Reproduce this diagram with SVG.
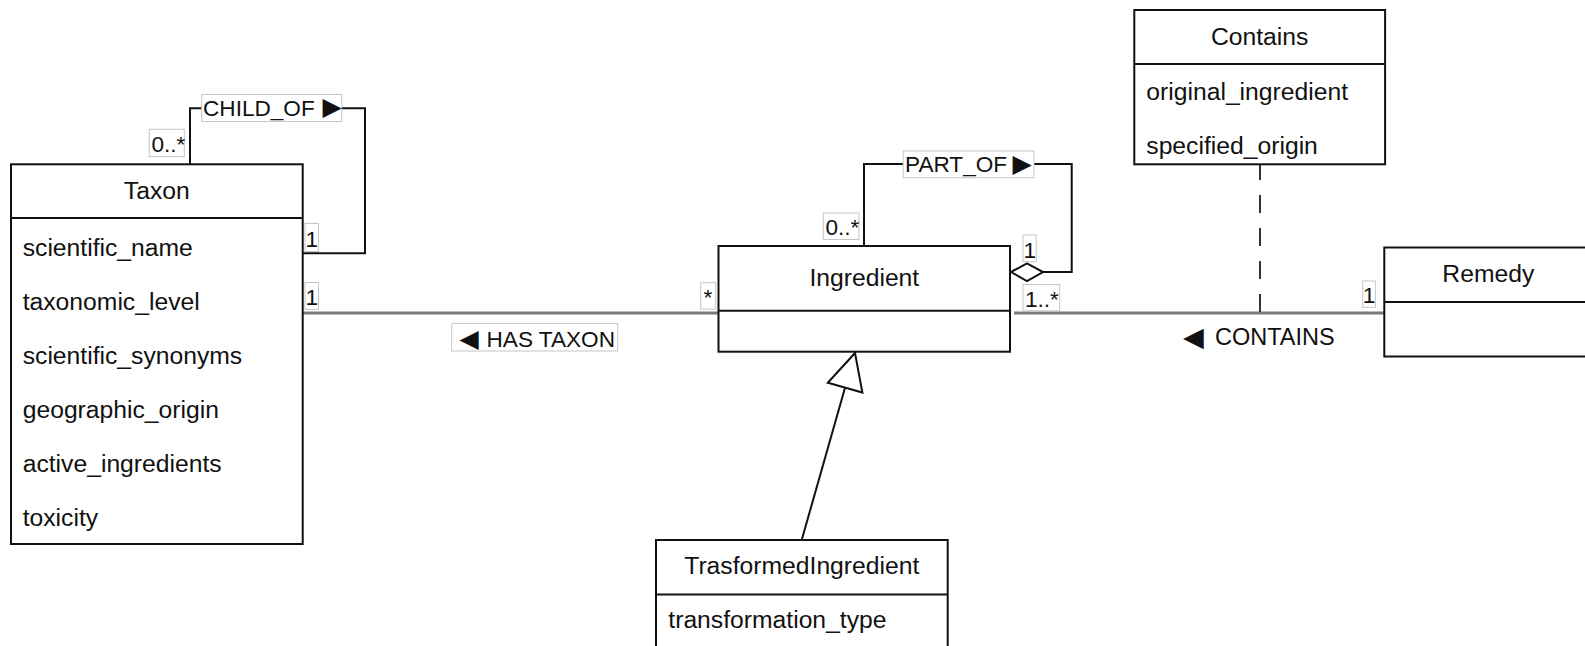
<svg xmlns="http://www.w3.org/2000/svg" width="1585" height="646" viewBox="0 0 1585 646">
<style>
.box{fill:#fff;stroke:#111;stroke-width:2}
.t{font-family:"Liberation Sans",Arial,Helvetica,sans-serif;font-size:24.7px;fill:#111}
.c{text-anchor:middle}
.lb{fill:#fff;stroke:#c6c6c6;stroke-width:1}
.lt{font-family:"Liberation Sans",Arial,Helvetica,sans-serif;font-size:22.6px;fill:#111}
.tri{font-family:"DejaVu Sans",sans-serif;font-size:25px;fill:#111}
.edge{fill:none;stroke:#111;stroke-width:2}
.assoc{fill:none;stroke:#7a7a7a;stroke-width:3}
.dash{fill:none;stroke:#333;stroke-width:2;stroke-dasharray:18 15}
</style>
<rect width="1585" height="646" fill="#fff"/>

<g id="connectors">
  <!-- CHILD_OF self loop -->
  <path class="edge" d="M190,164 V108.3 H365 V253.3 H303"/>
  <!-- PART_OF self loop with aggregation -->
  <path class="edge" d="M864,246 V164 H1071.7 V272 H1043"/>
  <path d="M1011,272 L1027,263.3 L1043,272 L1027,281 Z" fill="#fff" stroke="#111" stroke-width="2"/>
  <!-- HAS TAXON -->
  <line class="assoc" x1="303" y1="313" x2="718.5" y2="313"/>
  <!-- CONTAINS -->
  <line class="assoc" x1="1014" y1="313" x2="1384" y2="313"/>
  <!-- association class dashed -->
  <path class="dash" d="M1260,312 V164.5"/>
  <!-- generalization -->
  <line class="edge" x1="801.7" y1="540" x2="845.1" y2="387.6"/>
  <polygon points="855,353 862.4,392.5 827.8,382.7" fill="#fff" stroke="#111" stroke-width="2"/>

  <!-- labels -->
  <rect class="lb" x="201.7" y="94.5" width="140" height="27"/>
  <text class="lt" x="203" y="115.5">CHILD_OF</text>
  <text class="tri" x="322.5" y="114.8">▶</text>

  <rect class="lb" x="903.2" y="151" width="130.8" height="26.7"/>
  <text class="lt" x="905" y="172">PART_OF</text>
  <text class="tri" x="1012.5" y="171.8">▶</text>

  <rect class="lb" x="451.7" y="323.5" width="166" height="27.5"/>
  <text class="tri" x="459.5" y="346.8">◀</text>
  <text class="lt" x="486.5" y="347.3">HAS TAXON</text>

  <text class="tri" x="1183" y="345.5" style="font-size:27px">◀</text>
  <text class="lt" x="1215" y="345" style="font-size:23.5px">CONTAINS</text>

  <rect class="lb" x="149.3" y="129.3" width="35" height="27.4"/>
  <text class="lt" x="151.5" y="151.5">0..*</text>
  <rect class="lb" x="305" y="223.5" width="13.5" height="28"/>
  <text class="lt" x="305.5" y="246.5">1</text>
  <rect class="lb" x="305" y="282.5" width="13.5" height="27"/>
  <text class="lt" x="305.5" y="305">1</text>
  <rect class="lb" x="700.7" y="282.7" width="15" height="26.5"/>
  <text class="lt" x="703.5" y="305">*</text>
  <rect class="lb" x="823.3" y="213" width="35.6" height="26.5"/>
  <text class="lt" x="825.5" y="235">0..*</text>
  <rect class="lb" x="1023" y="235" width="13.2" height="26.7"/>
  <text class="lt" x="1023.5" y="257.5">1</text>
  <rect class="lb" x="1023" y="284.5" width="36.7" height="26.3"/>
  <text class="lt" x="1025" y="306.5">1..*</text>
  <rect class="lb" x="1362.7" y="281" width="12.7" height="26.3"/>
  <text class="lt" x="1362.8" y="303">1</text>
</g>

<g id="taxon">
  <rect class="box" x="11" y="164.3" width="291.7" height="379.7"/>
  <line class="box" x1="11" y1="218" x2="302.7" y2="218"/>
  <text class="t c" x="156.8" y="198.7">Taxon</text>
  <text class="t" x="22.7" y="255.5">scientific_name</text>
  <text class="t" x="22.7" y="309.5">taxonomic_level</text>
  <text class="t" x="22.7" y="363.5">scientific_synonyms</text>
  <text class="t" x="22.7" y="417.5">geographic_origin</text>
  <text class="t" x="22.7" y="471.5">active_ingredients</text>
  <text class="t" x="22.7" y="525.5">toxicity</text>
</g>

<g id="ingredient">
  <rect class="box" x="718.5" y="246" width="291.5" height="105.7"/>
  <line class="box" x1="718.5" y1="310.7" x2="1010" y2="310.7"/>
  <text class="t c" x="864.3" y="286">Ingredient</text>
</g>

<g id="contains">
  <rect class="box" x="1134.3" y="10" width="250.8" height="154.3"/>
  <line class="box" x1="1134.3" y1="64" x2="1385.1" y2="64"/>
  <text class="t c" x="1259.7" y="44.5">Contains</text>
  <text class="t" x="1146.3" y="100">original_ingredient</text>
  <text class="t" x="1146.3" y="154">specified_origin</text>
</g>

<g id="remedy">
  <rect class="box" x="1384.3" y="247.5" width="208" height="109"/>
  <line class="box" x1="1384.3" y1="302" x2="1592.3" y2="302"/>
  <text class="t c" x="1488.3" y="281.7">Remedy</text>
</g>

<g id="trasformedingredient">
  <rect class="box" x="656" y="540" width="291.7" height="160"/>
  <line class="box" x1="656" y1="594.5" x2="947.7" y2="594.5"/>
  <text class="t c" x="801.8" y="574">TrasformedIngredient</text>
  <text class="t" x="668.3" y="628.3">transformation_type</text>
</g>
</svg>
